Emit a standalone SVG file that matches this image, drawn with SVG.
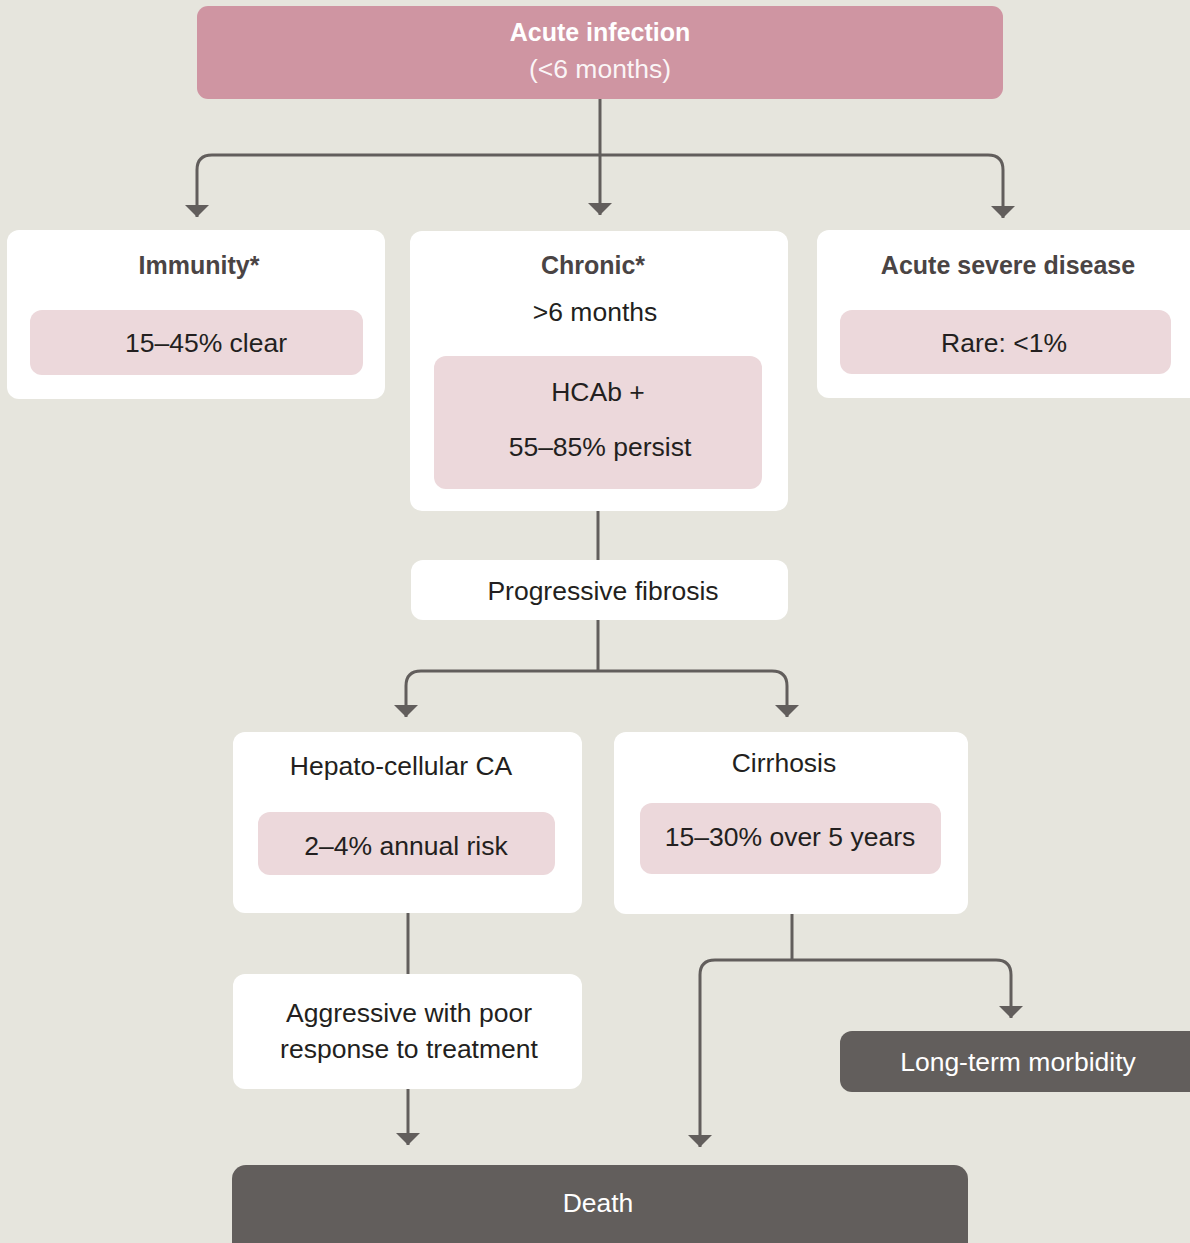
<svg xmlns="http://www.w3.org/2000/svg" width="1190" height="1243" viewBox="0 0 1190 1243">
<style>
text{font-family:"Liberation Sans",Arial,sans-serif;text-anchor:middle}
.card{fill:#ffffff}
.pink{fill:#ecd8db}
.dark{fill:#625e5c}
.t{font-size:26.5px;fill:#231f20}
.b{font-size:25px;font-weight:bold;fill:#4a4444}
.w{font-size:26.5px;fill:#ffffff}
.con{fill:none;stroke:#625e5c;stroke-width:3;marker-end:url(#ah)}
.lin{fill:none;stroke:#625e5c;stroke-width:3}
</style>
<defs>
<marker id="ah" viewBox="0 0 12 24" refX="12" refY="12" markerWidth="12" markerHeight="24" markerUnits="userSpaceOnUse" orient="auto">
<path d="M0,0 L12,12 L0,24 z" fill="#625e5c"/>
</marker>
</defs>
<rect width="1190" height="1243" fill="#e6e5dd"/>
<g id="connectors">
<path class="con" d="M600,99 V215"/>
<path class="con" d="M600,155 H212 Q197,155 197,170 V217"/>
<path class="con" d="M600,155 H988 Q1003,155 1003,170 V218"/>
<path class="lin" d="M598,511 V560"/>
<path class="lin" d="M598,620 V671"/>
<path class="con" d="M598,671 H421 Q406,671 406,686 V717"/>
<path class="con" d="M598,671 H772 Q787,671 787,686 V717"/>
<path class="lin" d="M408,913 V974"/>
<path class="con" d="M408,1089 V1145"/>
<path class="lin" d="M792,914 V960"/>
<path class="con" d="M792,960 H715 Q700,960 700,975 V1147"/>
<path class="con" d="M792,960 H996 Q1011,960 1011,975 V1018"/>
</g>
<g id="acute-infection">
<rect x="197" y="6" width="806" height="93" rx="11" fill="#cf95a2"/>
<text x="600" y="41" class="w" style="font-weight:bold;font-size:25px">Acute infection</text>
<text x="600" y="78" class="w" fill-opacity="0.92">(&lt;6 months)</text>
</g>
<g id="immunity">
<rect class="card" x="7" y="230" width="378" height="169" rx="12"/>
<text class="b" x="199" y="274">Immunity*</text>
<rect class="pink" x="30" y="310" width="333" height="65" rx="12"/>
<text class="t" x="206" y="352">15–45% clear</text>
</g>
<g id="chronic">
<rect class="card" x="410" y="231" width="378" height="280" rx="12"/>
<text class="b" x="593" y="274">Chronic*</text>
<text class="t" x="595" y="321">&gt;6 months</text>
<rect class="pink" x="434" y="356" width="328" height="133" rx="12"/>
<text class="t" x="598" y="401">HCAb +</text>
<text class="t" x="600" y="456">55–85% persist</text>
</g>
<g id="acute-severe">
<rect class="card" x="817" y="230" width="385" height="168" rx="12"/>
<text class="b" x="1008" y="274">Acute severe disease</text>
<rect class="pink" x="840" y="310" width="331" height="64" rx="12"/>
<text class="t" x="1004" y="352">Rare: &lt;1%</text>
</g>
<g id="fibrosis">
<rect class="card" x="411" y="560" width="377" height="60" rx="12"/>
<text class="t" x="603" y="600">Progressive fibrosis</text>
</g>
<g id="hcc">
<rect class="card" x="233" y="732" width="349" height="181" rx="12"/>
<text class="t" x="401" y="775">Hepato-cellular CA</text>
<rect class="pink" x="258" y="812" width="297" height="63" rx="12"/>
<text class="t" x="406" y="855">2–4% annual risk</text>
</g>
<g id="cirrhosis">
<rect class="card" x="614" y="732" width="354" height="182" rx="12"/>
<text class="t" x="784" y="772">Cirrhosis</text>
<rect class="pink" x="640" y="803" width="301" height="71" rx="12"/>
<text class="t" x="790" y="846">15–30% over 5 years</text>
</g>
<g id="aggressive">
<rect class="card" x="233" y="974" width="349" height="115" rx="12"/>
<text class="t" x="409" y="1022">Aggressive with poor</text>
<text class="t" x="409" y="1058">response to treatment</text>
</g>
<g id="morbidity">
<rect class="dark" x="840" y="1031" width="362" height="61" rx="12"/>
<text class="w" x="1018" y="1071">Long-term morbidity</text>
</g>
<g id="death">
<rect class="dark" x="232" y="1165" width="736" height="100" rx="14"/>
<text class="w" x="598" y="1212">Death</text>
</g>
</svg>
